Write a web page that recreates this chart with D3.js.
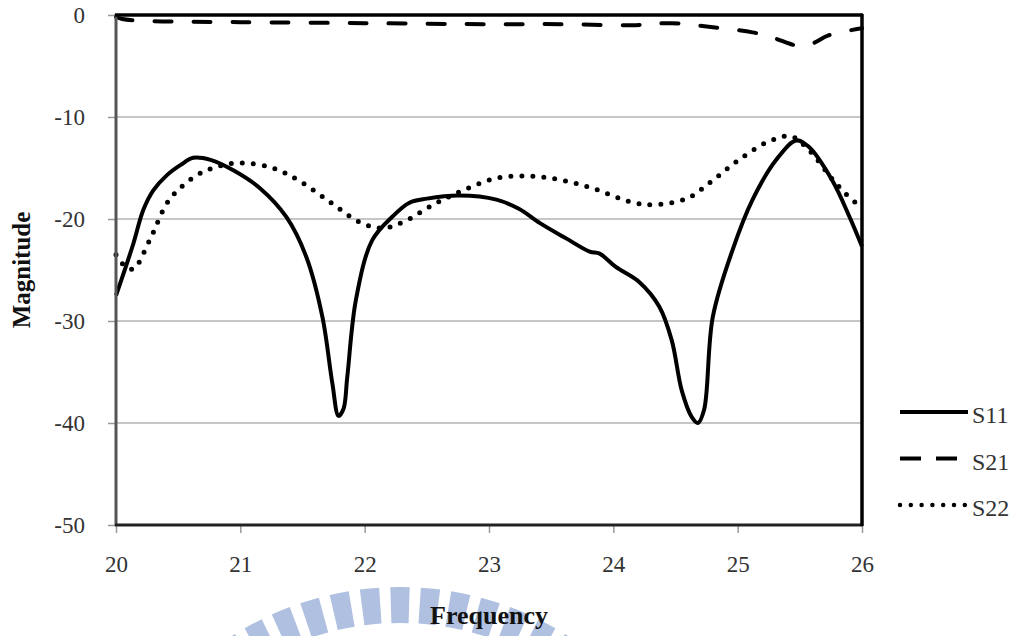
<!doctype html>
<html>
  <head>
    <meta charset="utf-8">
    <script src="https://d3js.org/d3.v7.min.js"></script>
    <style>
      body { margin: 0; background: #fff; }
      text { font-family: "Liberation Serif", "DejaVu Serif", serif; }
    </style>
  </head>
  <body>
    <svg id="chart" width="1021" height="636"></svg>
    <script>
      // frequency (GHz) and magnitude (dB)
      var s11 = [
        [20.00,-27.5],[20.07,-25.0],[20.14,-22.4],[20.22,-19.1],[20.30,-17.2],[20.41,-15.7],
        [20.52,-14.7],[20.62,-14.0],[20.76,-14.2],[20.94,-15.2],[21.16,-17.0],[21.37,-19.8],
        [21.53,-23.7],[21.66,-29.6],[21.74,-36.1],[21.79,-39.3],[21.83,-38.6],[21.86,-35.5],
        [21.93,-27.9],[22.06,-22.1],[22.22,-19.8],[22.36,-18.4],[22.50,-18.0],[22.76,-17.7],
        [23.06,-18.1],[23.24,-19.0],[23.41,-20.4],[23.62,-21.9],[23.81,-23.2],[23.89,-23.4],
        [24.02,-24.7],[24.21,-26.2],[24.37,-28.6],[24.47,-31.9],[24.55,-36.8],[24.63,-39.4],
        [24.68,-40.0],[24.73,-38.7],[24.80,-29.6],[24.96,-23.0],[25.12,-18.1],[25.31,-14.2],
        [25.47,-12.3],[25.57,-12.9],[25.76,-16.2],[25.90,-19.8],[26.00,-22.7]
      ];
      var s21 = [
        [20.00,-0.2],[20.05,-0.4],[20.30,-0.6],[21.00,-0.7],[22.00,-0.8],[23.00,-0.9],
        [23.60,-0.9],[24.15,-1.0],[24.47,-0.8],[24.80,-1.2],[25.12,-1.7],[25.30,-2.3],
        [25.48,-3.0],[25.60,-2.8],[25.73,-2.0],[26.00,-1.3]
      ];
      var s22 = [
        [20.00,-23.5],[20.07,-24.6],[20.14,-24.9],[20.27,-22.1],[20.43,-18.1],[20.65,-15.7],
        [20.81,-14.9],[20.99,-14.5],[21.26,-15.0],[21.48,-16.3],[21.74,-18.5],[21.96,-20.3],
        [22.14,-20.9],[22.31,-20.3],[22.55,-18.6],[22.79,-17.2],[23.06,-16.0],[23.33,-15.8],
        [23.59,-16.2],[23.86,-17.1],[24.13,-18.3],[24.31,-18.6],[24.59,-18.0],[24.80,-16.2],
        [25.01,-14.2],[25.25,-12.4],[25.43,-11.9],[25.57,-13.2],[25.79,-16.5],[25.95,-18.4],
        [26.00,-18.6]
      ];
      var xTicks = [20,21,22,23,24,25,26];
      var yTicks = [0,-10,-20,-30,-40,-50];
      var seriesNames = ["S11","S21","S22"];

      var svg = d3.select("#chart");
      var xScale = d3.scaleLinear().domain([20,26]).range([116,862]);
      var yScale = d3.scaleLinear().domain([-50,0]).range([525,15]);

      // faint watermark stripes behind the bottom title
      var wm = svg.append("g").attr("transform","translate(400,900)");
      var arc = d3.arc().innerRadius(277).outerRadius(313);
      d3.range(-6,7).forEach(function(i){
        var a = i*5.6*Math.PI/180;
        wm.append("path")
          .attr("d",arc({startAngle:a-0.031,endAngle:a+0.031}))
          .attr("fill","#b0c0e0");
      });

      // gridlines
      svg.append("g").selectAll("line.grid")
        .data(yTicks.filter(d=>d!==0 && d!==-50))
        .enter().append("line")
        .attr("class","grid")
        .attr("x1",xScale(20)).attr("x2",xScale(26))
        .attr("y1",d=>yScale(d)).attr("y2",d=>yScale(d))
        .attr("stroke","#b3b3b3").attr("stroke-width",1.5);

      // axes (plain hyphen for negatives, like the original)
      var yAxis = d3.axisLeft(yScale).tickValues(yTicks).tickSize(8).tickPadding(23).tickFormat(d=>String(d));
      var yG = svg.append("g").attr("transform","translate(116,0)").call(yAxis);
      var xAxis = d3.axisBottom(xScale).tickValues(xTicks).tickSize(8).tickPadding(23).tickFormat(d=>String(d));
      var xG = svg.append("g").attr("transform","translate(0,525)").call(xAxis);
      [yG,xG].forEach(function(g){
        g.select(".domain").remove();
        g.selectAll(".tick line").attr("stroke","#999").attr("stroke-width",1.5);
        g.selectAll(".tick text")
          .attr("fill","#333")
          .style("font-size","23px")
          .style("font-family","'Liberation Serif', serif");
      });

      // curves
      var line = d3.line()
        .x(d=>xScale(d[0]))
        .y(d=>yScale(d[1]))
        .curve(d3.curveCatmullRom.alpha(0.5));

      svg.append("path").attr("d",line(s22))
        .attr("fill","none").attr("stroke","#000").attr("stroke-width",5)
        .attr("stroke-linecap","round").attr("stroke-dasharray","0,11");
      svg.append("path").attr("d",line(s11))
        .attr("fill","none").attr("stroke","#000").attr("stroke-width",4)
        .attr("stroke-linejoin","round");
      svg.append("path").attr("d",line(s21))
        .attr("fill","none").attr("stroke","#000").attr("stroke-width",4)
        .attr("stroke-linecap","round").attr("stroke-dasharray","17,22");

      // plot frame
      svg.append("line").attr("x1",116).attr("x2",116).attr("y1",14).attr("y2",526)
        .attr("stroke","#555").attr("stroke-width",3);
      svg.append("line").attr("x1",115).attr("x2",863).attr("y1",525).attr("y2",525)
        .attr("stroke","#222").attr("stroke-width",3);
      svg.append("line").attr("x1",115).attr("x2",863).attr("y1",15).attr("y2",15)
        .attr("stroke","#000").attr("stroke-width",3.5);
      svg.append("line").attr("x1",862).attr("x2",862).attr("y1",14).attr("y2",526)
        .attr("stroke","#000").attr("stroke-width",3.5);

      // axis titles
      svg.append("text").attr("x",489).attr("y",624)
        .attr("text-anchor","middle")
        .style("font-size","26px").style("font-weight","bold").attr("fill","#111")
        .text("Frequency");
      svg.append("text")
        .attr("transform","translate(30,270) rotate(-90)")
        .attr("text-anchor","middle")
        .style("font-size","25px").style("font-weight","bold").attr("fill","#111")
        .text("Magnitude");

      // legend
      var legY = d3.scalePoint().domain(seriesNames).range([412,505]);
      var dash = {"S11":null,"S21":"21,15","S22":"0,10.8"};
      var cap = {"S11":"butt","S21":"butt","S22":"round"};
      var width = {"S11":4,"S21":4,"S22":4.5};
      seriesNames.forEach(function(n){
        svg.append("line")
          .attr("x1",900).attr("x2",n==="S22"?966:968)
          .attr("y1",legY(n)).attr("y2",legY(n))
          .attr("stroke","#000").attr("stroke-width",width[n])
          .attr("stroke-linecap",cap[n])
          .attr("stroke-dasharray",dash[n]);
        svg.append("text").attr("x",972).attr("y",legY(n)+11)
          .style("font-size","24px").attr("fill","#333")
          .text(n);
      });
    </script>
  </body>
</html>
